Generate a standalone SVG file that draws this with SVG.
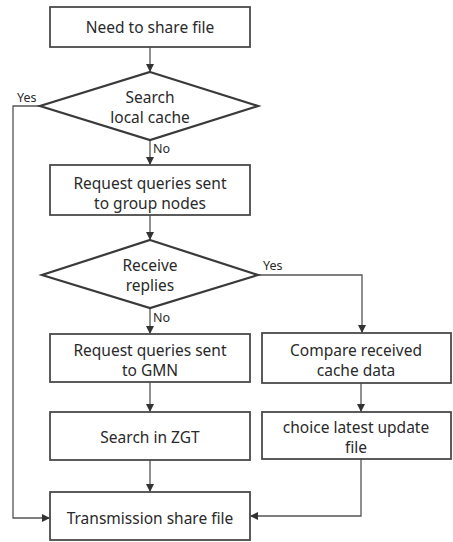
<svg xmlns="http://www.w3.org/2000/svg" width="453" height="542" viewBox="0 0 453 542">
<style>
.box{fill:#fff;stroke:#4a4a4a;stroke-width:1.8}
.dia{fill:#fff;stroke:#3a3a3a;stroke-width:2.2}
.t{font-family:"Noto Sans","Open Sans",sans-serif;font-size:15.5px;fill:#2a2a2a;text-anchor:middle}
.lbl{font-family:"Noto Sans","Open Sans",sans-serif;font-size:12.5px;fill:#2a2a2a}
.c{fill:none;stroke:#555;stroke-width:1.3;marker-end:url(#ah)}
</style>
<defs>
<marker id="ah" viewBox="0 0 10 10" refX="10" refY="5" markerWidth="8" markerHeight="8" markerUnits="userSpaceOnUse" orient="auto">
<path d="M0,0 L10,5 L0,10 z" fill="#333"/>
</marker>
</defs>
<rect width="453" height="542" fill="#fff"/>
<g id="connectors">
<path class="c" d="M150,47 V72"/>
<path class="c" d="M150,140 V165"/>
<path class="c" d="M150,215 V240"/>
<path class="c" d="M150,308 V334"/>
<path class="c" d="M150,382 V412"/>
<path class="c" d="M150,460 V492"/>
<path class="c" d="M40,106 H13 V518 H50"/>
<path class="c" d="M258,275 H362 V333"/>
<path class="c" d="M361,383 V412"/>
<path class="c" d="M361,459 V516 H250"/>
<text class="lbl" x="17" y="102">Yes</text>
<text class="lbl" x="153" y="153">No</text>
<text class="lbl" x="263" y="270">Yes</text>
<text class="lbl" x="153" y="322">No</text>
</g>
<g id="n1"><rect class="box" x="50" y="7" width="200" height="40"/><text class="t" x="150" y="33">Need to share file</text></g>
<g id="d1"><polygon class="dia" points="150,72 258,106 150,140 40,106"/><text class="t" x="150" y="103">Search</text><text class="t" x="150" y="123">local  cache</text></g>
<g id="n2"><rect class="box" x="50" y="165" width="200" height="50"/><text class="t" x="150" y="189">Request queries sent</text><text class="t" x="150" y="209">to group  nodes</text></g>
<g id="d2"><polygon class="dia" points="150,240 258,275 150,308 42,275"/><text class="t" x="150" y="271">Receive</text><text class="t" x="150" y="291">replies</text></g>
<g id="n3"><rect class="box" x="50" y="334" width="200" height="48"/><text class="t" x="150" y="356">Request queries sent</text><text class="t" x="150" y="376">to GMN</text></g>
<g id="n4"><rect class="box" x="50" y="412" width="200" height="48"/><text class="t" x="150" y="443">Search in  ZGT</text></g>
<g id="n5"><rect class="box" x="50" y="492" width="200" height="48"/><text class="t" x="150" y="524">Transmission  share file</text></g>
<g id="n6"><rect class="box" x="262" y="333" width="189" height="50"/><text class="t" x="356" y="356">Compare  received</text><text class="t" x="356" y="376">cache data</text></g>
<g id="n7"><rect class="box" x="262" y="412" width="189" height="47"/><text class="t" x="356" y="433">choice latest update</text><text class="t" x="356" y="453">file</text></g>
</svg>
